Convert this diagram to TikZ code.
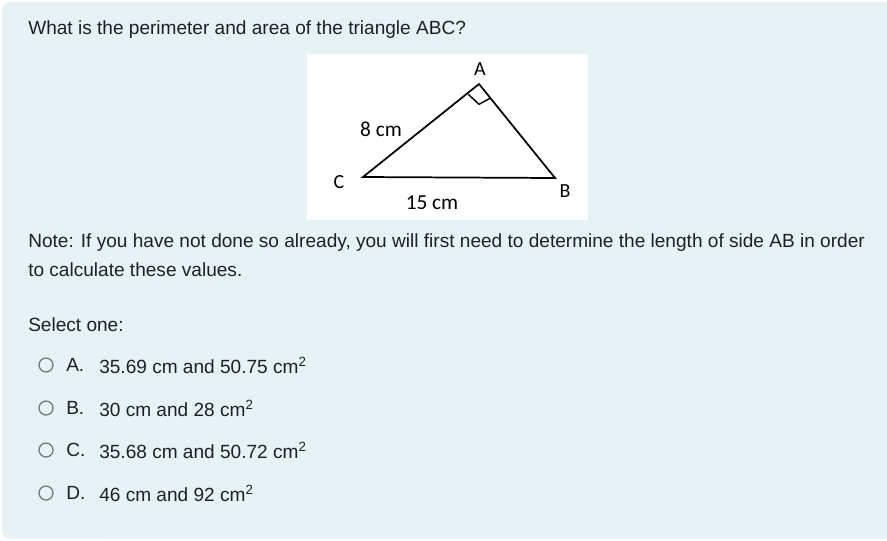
\documentclass[tikz,border=0pt]{standalone}
\usepackage{fontspec}
\setmainfont{Liberation Sans}
\newfontfamily\calib{Carlito}
\definecolor{bgq}{HTML}{E7F2F5}
\definecolor{txt}{HTML}{1D2125}
\definecolor{radio}{HTML}{6A737B}
\begin{document}
\begin{tikzpicture}[x=0.75pt,y=-0.75pt,
  qtext/.style={anchor=west,inner sep=0pt,text=txt,font=\fontsize{14.3}{16}\selectfont},
  fig/.style={inner sep=0pt,font=\calib\fontsize{16}{18}\selectfont},
  figl/.style={inner sep=0pt,font=\calib\fontsize{15}{17}\selectfont},
  rad/.style={circle,draw=radio,line width=0.9pt,minimum size=10.5pt,inner sep=0pt}]
\useasboundingbox (0,0) rectangle (887,540);
\fill[white] (0,0) rectangle (887,540);
\fill[bgq,rounded corners=6pt] (2,2) rectangle (900,538.5);
\fill[bgq] (100,2) rectangle (887,538.5);
\node[qtext] (q) at (28,30) {What is the perimeter and area of the triangle ABC?};
% figure
\fill[white] (307,54) rectangle (588,220);
\coordinate (C) at (363,177);
\coordinate (A) at (479,84);
\coordinate (B) at (555,178);
\draw[line width=1.3pt,line join=miter] (C) -- (A) -- (B) -- cycle;
\draw[line width=1.1pt] (468.3,94.3) -- (479,104.3) -- (490,98.3);
\node[figl] (la) at (480,69) {A};
\node[fig] (lac) at (381,129) {8 cm};
\node[figl] (lc) at (339,182) {C};
\node[figl] (lb) at (565,191) {B};
\node[fig] (lcb) at (432,203) {15 cm};
\node[qtext] (n1) at (28,243) {Note: If you have not done so already, you will first need to determine the length of side AB in order};
\node[qtext] (n2) at (28,270) {to calculate these values.};
\node[qtext] (sel) at (28,325) {Select one:};
\foreach \y/\l/\t in {365/A./{35.69 cm and 50.75 cm\textsuperscript{2}},
                      408/B./{30 cm and 28 cm\textsuperscript{2}},
                      450/C./{35.68 cm and 50.72 cm\textsuperscript{2}},
                      493/D./{46 cm and 92 cm\textsuperscript{2}}}{
  \node[rad] at (46,\y) {};
  \node[qtext] at (66,\y) {\l};
  \node[qtext] at (99,\y) {\t};
}
\end{tikzpicture}
\end{document}
